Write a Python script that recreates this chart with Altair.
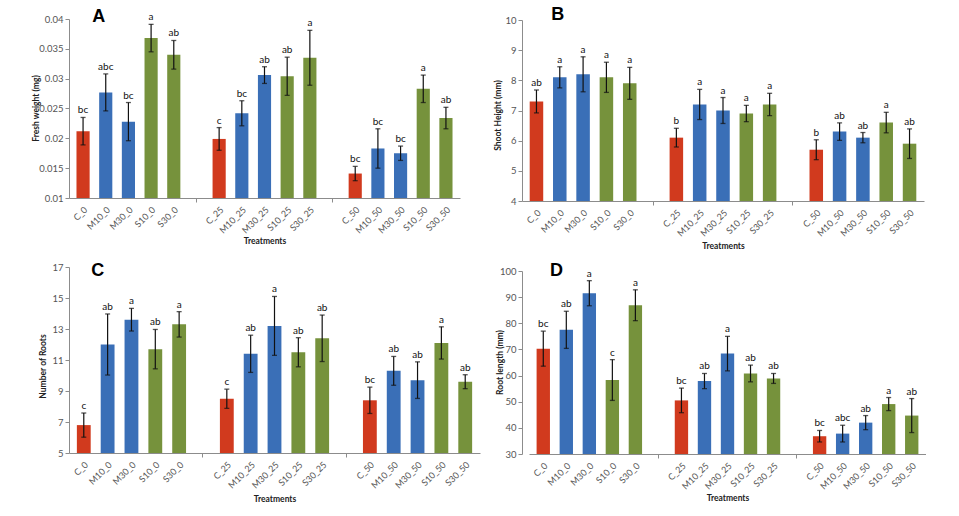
import altair as alt
import pandas as pd

treatments = ["C_0", "M10_0", "M30_0", "S10_0", "S30_0",
              "C_25", "M10_25", "M30_25", "S10_25", "S30_25",
              "C_50", "M10_50", "M30_50", "S10_50", "S30_50"]
groups = ["C", "M", "M", "S", "S"] * 3
x_domain = treatments[:5] + ["gap1"] + treatments[5:10] + ["gap2"] + treatments[10:]

# Panel A: fresh weight (mg)
fw_mean = [0.0212, 0.0277, 0.0228, 0.0368, 0.0340,
           0.0199, 0.0242, 0.0306, 0.0304, 0.0335,
           0.0141, 0.0183, 0.0175, 0.0283, 0.0234]
fw_err = [0.0023, 0.0031, 0.0032, 0.0023, 0.0024,
          0.0019, 0.0021, 0.0014, 0.0032, 0.0046,
          0.0012, 0.0033, 0.0012, 0.0023, 0.0018]
fw_sig = ["bc", "abc", "bc", "a", "ab",
          "c", "bc", "ab", "ab", "a",
          "bc", "bc", "bc", "a", "ab"]

# Panel B: shoot height (mm)
sh_mean = [7.3, 8.1, 8.2, 8.1, 7.9,
           6.1, 7.2, 7.0, 6.9, 7.2,
           5.7, 6.3, 6.1, 6.6, 5.9]
sh_err = [0.38, 0.35, 0.58, 0.50, 0.53,
          0.31, 0.50, 0.43, 0.27, 0.37,
          0.33, 0.29, 0.17, 0.34, 0.49]
sh_sig = ["ab", "a", "a", "a", "a",
          "b", "a", "a", "a", "a",
          "b", "ab", "ab", "a", "ab"]

# Panel C: number of roots
nr_mean = [6.8, 12.0, 13.6, 11.7, 13.3,
           8.5, 11.4, 13.2, 11.5, 12.4,
           8.4, 10.3, 9.7, 12.1, 9.6]
nr_err = [0.78, 1.97, 0.73, 1.27, 0.82,
          0.62, 1.20, 1.90, 0.94, 1.50,
          0.85, 0.93, 1.18, 1.04, 0.45]
nr_sig = ["c", "ab", "a", "ab", "a",
          "c", "ab", "a", "ab", "ab",
          "bc", "ab", "ab", "a", "ab"]

# Panel D: root length (mm)
rl_mean = [70.3, 77.5, 91.5, 58.3, 86.9,
           50.5, 57.9, 68.4, 60.8, 58.9,
           36.8, 37.8, 42.0, 49.1, 44.7]
rl_err = [6.7, 7.1, 4.8, 7.8, 5.9,
          4.7, 2.9, 6.6, 3.2, 1.9,
          2.2, 3.2, 2.7, 2.5, 6.5]
rl_sig = ["bc", "ab", "a", "c", "a",
          "bc", "ab", "a", "ab", "ab",
          "bc", "abc", "ab", "a", "ab"]

color_domain = ["C", "M", "S"]
color_range = ["#D13A1E", "#3A6FB7", "#76923C"]

FONT = "Lato"
GREY = "#555555"
AXIS_GREY = "#8C8C8C"


def panel(mean, err, sig, ytitle, ymin, ymax, yvals, width, height, xrange, yrange,
          letter, lx, ly, tx, ty, xty):
    df = pd.DataFrame({
        "t": treatments, "g": groups, "v": mean, "e": err, "sig": sig,
    })
    df["lo"] = df["v"] - df["e"]
    df["hi"] = df["v"] + df["e"]
    df["base"] = ymin

    xenc = alt.X(
        "t:N",
        scale=alt.Scale(domain=x_domain, paddingInner=0.42, paddingOuter=0.33, range=xrange),
        axis=alt.Axis(
            title="Treatments", labelAngle=-45, labelFontSize=9,
            labelColor=GREY, labelFont=FONT, labelPadding=3, tickSize=4,
            labelExpr="indexof(datum.value, 'gap') >= 0 ? '' : datum.value",
            tickOpacity={"condition": {"test": "indexof(datum.value, 'gap') >= 0", "value": 1}, "value": 0},
            tickColor=AXIS_GREY, domainColor=AXIS_GREY,
            titleFont=FONT, titleFontSize=8.5, titleFontWeight="bold",
            titleColor="#222222", titleY=xty, titleBaseline="middle",
            titleX=(xrange[0] + xrange[1]) / 2, titleAlign="center",
            labelOverlap=False,
        ),
    )
    yscale = alt.Scale(domain=[ymin, ymax], nice=False, zero=False, range=yrange)
    yaxis = alt.Axis(
        title=ytitle, values=yvals, tickCount=50, labelExpr="'' + datum.value", grid=False,
        labelOverlap=False, labelBound=False,
        labelFontSize=9.5, labelColor=GREY, labelFont=FONT, labelPadding=2,
        tickSize=4, tickColor=AXIS_GREY, domainColor=AXIS_GREY,
        titleFont=FONT, titleFontSize=8.5, titleFontWeight="bold",
        titleColor="#222222", titleX=tx, titleY=ty, titleAlign="center",
        titleBaseline="middle", titleAngle=-90,
    )
    base = alt.Chart(df)
    bars = base.mark_bar().encode(
        x=xenc,
        y=alt.Y("v:Q", scale=yscale, axis=yaxis),
        y2="base:Q",
        color=alt.Color("g:N", scale=alt.Scale(domain=color_domain, range=color_range), legend=None),
    )
    rule = base.mark_rule(color="#111111", strokeWidth=1.2).encode(
        x="t:N", y="lo:Q", y2="hi:Q")
    cap_hi = base.mark_tick(color="#111111", size=5, thickness=1.3, orient="horizontal").encode(
        x="t:N", y="hi:Q")
    cap_lo = base.mark_tick(color="#111111", size=5, thickness=1.3, orient="horizontal").encode(
        x="t:N", y="lo:Q")
    text = base.mark_text(baseline="bottom", dy=-2, fontSize=10, font=FONT, color="#111111").encode(
        x="t:N", y="hi:Q", text="sig:N")
    lab = alt.Chart(pd.DataFrame({"p": [letter]})).mark_text(
        font="Liberation Sans", fontWeight="bold", fontSize=18, align="center",
        baseline="alphabetic", color="#000000"
    ).encode(text="p:N", x=alt.value(lx), y=alt.value(ly))
    return alt.layer(bars, rule, cap_hi, cap_lo, text, lab).properties(width=width, height=height)


pA = panel(fw_mean, fw_err, fw_sig, "Fresh weight (mg)", 0.01, 0.04,
           [0.01, 0.015, 0.02, 0.025, 0.03, 0.035, 0.04],
           391, 179, [0, 391], [179, 0], "A", 29.7, 3, -33.6, 89, 42)
pB = panel(sh_mean, sh_err, sh_sig, "Shoot Height (mm)", 4, 10,
           [4, 5, 6, 7, 8, 9, 10],
           402, 182, [0, 402], [182, 1], "B", 35.7, 1, -24.4, 96, 44)
pC = panel(nr_mean, nr_err, nr_sig, "Number of Roots", 5, 17,
           [5, 7, 9, 11, 13, 15, 17],
           411, 186, [0, 411], [186, 0], "C", 28.7, 8.7, -26.7, 99, 45)
pD = panel(rl_mean, rl_err, rl_sig, "Root length (mm)", 30, 100,
           [30, 40, 50, 60, 70, 80, 90, 100],
           404, 187, [7, 404], [187, 4], "D", 34.4, 9.4, -23, 95, 43)

chart = alt.concat(pA, pB, pC, pD, columns=2, spacing={"row": 66, "column": 42},
                   bounds="flush").properties(
    padding={"left": 31, "top": 6, "right": 0, "bottom": 0},
    background="white",
).configure_view(stroke=None)

chart.save("out.html", embed_options={"renderer": "svg", "actions": False})
